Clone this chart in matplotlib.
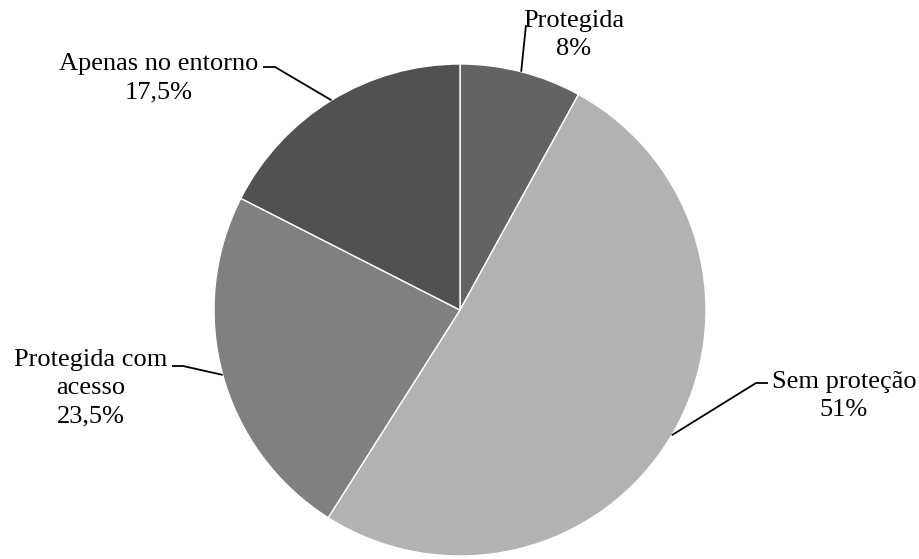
import numpy as np
import matplotlib
matplotlib.use("Agg")
import matplotlib.pyplot as plt

# Shares of each protection category (percent)
categories = ["Protegida", "Sem proteção", "Protegida com acesso", "Apenas no entorno"]
values = [8, 51, 23.5, 17.5]
value_labels = ["8%", "51%", "23,5%", "17,5%"]
label_texts = ["Protegida", "Sem proteção", "Protegida com\nacesso", "Apenas no entorno"]
colors = ["#636363", "#b2b2b2", "#808080", "#515151"]

W, H = 920, 559
fig = plt.figure(figsize=(W / 100, H / 100), dpi=100)
ax = fig.add_axes([0, 0, 1, 1])

cx, cy, r = 460, H - 310, 246
wedges, _ = ax.pie(values, colors=colors, startangle=90, counterclock=False,
                   center=(cx, cy), radius=r, frame=True,
                   wedgeprops=dict(edgecolor="white", linewidth=1.0))
ax.set_xlim(0, W)
ax.set_ylim(0, H)
ax.set_aspect("equal")
ax.axis("off")

# Text placement (pixel coordinates from top-left) and leader-line elbows
text_pos = [(574, 35), (844, 396), (91, 388), (159, 78)]
elbows = [
    [(526, 25)],
    [(756, 383), (768, 383)],
    [(183, 366), (172, 366)],
    [(275, 67), (263, 67)],
]

fontkw = dict(family=["Liberation Serif", "DejaVu Serif"], fontsize=19, color="black")
for w, txt, val, (tx, ty), elb in zip(wedges, label_texts, value_labels, text_pos, elbows):
    ang = np.deg2rad((w.theta1 + w.theta2) / 2)
    px, py = cx + r * np.cos(ang), cy + r * np.sin(ang)
    xs = [px] + [e[0] for e in elb]
    ys = [py] + [H - e[1] for e in elb]
    ax.plot(xs, ys, color="black", lw=1.3, solid_capstyle="butt")
    ax.text(tx, H - ty, f"{txt}\n{val}", ha="center", va="center",
            linespacing=1.36, **fontkw)

fig.savefig("out.png", dpi=100, facecolor="white")
